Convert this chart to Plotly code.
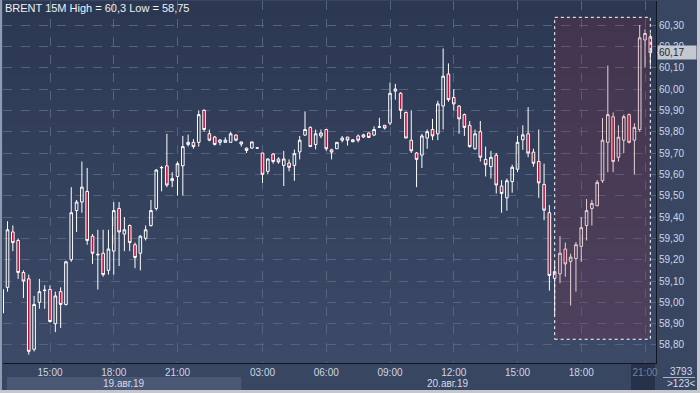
import plotly.graph_objects as go
import pandas as pd

# ---------------- data (BRENT 15M) ----------------
opens = [58.95, 59.07, 59.33, 59.29, 59.14, 59.11, 58.78, 59.00, 59.055, 59.06,
         58.90, 59.05, 58.99, 59.20, 59.43, 59.47, 59.52, 59.31, 59.222, 59.23,
         59.15, 59.24, 59.44, 59.32, 59.36, 59.27, 59.23, 59.30, 59.36, 59.44,
         59.63, 59.64, 59.57, 59.59, 59.64, 59.74, 59.75, 59.75, 59.90, 59.79,
         59.775, 59.75, 59.75, 59.75, 59.784, 59.752, 59.723, 59.723, 59.723, 59.70,
         59.614, 59.695, 59.672, 59.642, 59.653, 59.642, 59.705, 59.784, 59.82, 59.74,
         59.78, 59.81, 59.715, 59.72, 59.76, 59.775, 59.753, 59.78, 59.775, 59.794,
         59.784, 59.82, 59.83, 59.84, 59.99, 59.98, 59.89, 59.76, 59.70, 59.69,
         59.77, 59.81, 59.79, 59.92, 60.07, 59.96, 59.92, 59.88, 59.83, 59.72,
         59.80, 59.67, 59.636, 59.69, 59.545, 59.49, 59.566, 59.624, 59.762, 59.79,
         59.704, 59.66, 59.553, 59.42, 59.1125, 59.134, 59.25, 59.192, 59.205, 59.2625,
         59.36, 59.44, 59.453, 59.57, 59.75, 59.87, 59.68, 59.76, 59.88, 59.76,
         59.81, 60.23, 60.245]
highs = [59.07, 59.38, 59.36, 59.30, 59.15, 59.13, 59.03, 59.11, 59.08, 59.08,
         59.05, 59.07, 59.195, 59.54, 59.48, 59.66, 59.63, 59.32, 59.34, 59.34,
         59.34, 59.47, 59.47, 59.40, 59.365, 59.28, 59.315, 59.36, 59.48, 59.625,
         59.64, 59.79, 59.61, 59.66, 59.78, 59.786, 59.765, 59.90, 59.905, 59.81,
         59.78, 59.765, 59.773, 59.80, 59.786, 59.752, 59.725, 59.752, 59.725, 59.70,
         59.675, 59.70, 59.68, 59.71, 59.67, 59.716, 59.78, 59.895, 59.825, 59.81,
         59.81, 59.812, 59.72, 59.75, 59.78, 59.775, 59.765, 59.787, 59.79, 59.796,
         59.825, 59.865, 59.83, 60.03, 60.024, 59.985, 59.895, 59.90, 59.705, 59.79,
         59.81, 59.86, 59.945, 60.19, 60.12, 60.00, 59.925, 59.885, 59.85, 59.81,
         59.85, 59.73, 59.71, 59.70, 59.573, 59.58, 59.645, 59.78, 59.83, 59.915,
         59.72, 59.81, 59.65, 59.456, 59.19, 59.31, 59.28, 59.228, 59.283, 59.40,
         59.484, 59.48, 59.573, 59.864, 60.11, 59.89, 59.83, 59.88, 59.885, 59.84,
         60.30, 60.28, 60.26]
lows = [58.94, 59.05, 59.24, 59.11, 59.02, 58.755, 58.77, 58.97, 58.97, 58.905,
        58.86, 58.88, 58.985, 59.19, 59.33, 59.42, 59.27, 59.18, 59.06, 59.12,
        59.13, 59.13, 59.17, 59.24, 59.24, 59.16, 59.15, 59.29, 59.355, 59.43,
        59.52, 59.54, 59.54, 59.50, 59.50, 59.73, 59.72, 59.73, 59.80, 59.755,
        59.735, 59.736, 59.75, 59.75, 59.755, 59.73, 59.70, 59.72, 59.72, 59.56,
        59.60, 59.65, 59.65, 59.545, 59.614, 59.57, 59.67, 59.78, 59.73, 59.717,
        59.77, 59.71, 59.67, 59.72, 59.75, 59.735, 59.75, 59.75, 59.77, 59.77,
        59.78, 59.82, 59.81, 59.83, 59.95, 59.86, 59.77, 59.70, 59.54, 59.63,
        59.72, 59.76, 59.76, 59.81, 59.94, 59.90, 59.79, 59.78, 59.725, 59.715,
        59.66, 59.59, 59.58, 59.51, 59.42, 59.43, 59.514, 59.61, 59.715, 59.68,
        59.636, 59.49, 59.385, 59.055, 58.94, 59.09, 59.12, 58.985, 59.05, 59.19,
        59.29, 59.36, 59.45, 59.56, 59.61, 59.61, 59.66, 59.70, 59.745, 59.60,
        59.80, 60.10, 60.11]
closes = [59.06, 59.34, 59.28, 59.14, 59.10, 58.77, 58.99, 59.05, 59.057, 58.91,
          59.03, 58.99, 59.19, 59.42, 59.47, 59.54, 59.29, 59.23, 59.225, 59.13,
          59.25, 59.43, 59.33, 59.34, 59.28, 59.21, 59.31, 59.34, 59.43, 59.62,
          59.632, 59.55, 59.58, 59.65, 59.73, 59.75, 59.73, 59.88, 59.81, 59.76,
          59.74, 59.761, 59.76, 59.79, 59.76, 59.742, 59.712, 59.752, 59.724, 59.60,
          59.672, 59.66, 59.658, 59.672, 59.633, 59.697, 59.76, 59.81, 59.73, 59.79,
          59.794, 59.72, 59.704, 59.75, 59.77, 59.76, 59.762, 59.76, 59.785, 59.773,
          59.81, 59.823, 59.817, 59.98, 60.00, 59.90, 59.77, 59.71, 59.67, 59.78,
          59.80, 59.78, 59.93, 60.06, 59.95, 59.93, 59.86, 59.82, 59.73, 59.79,
          59.68, 59.645, 59.68, 59.55, 59.51, 59.57, 59.633, 59.75, 59.785, 59.70,
          59.652, 59.56, 59.432, 59.126, 59.144, 59.23, 59.18, 59.212, 59.27, 59.35,
          59.43, 59.464, 59.5625, 59.76, 59.88, 59.66, 59.774, 59.87, 59.75, 59.82,
          60.24, 60.26, 60.17]

# trading sessions (bar open times)
session_1 = pd.date_range("2019-08-19 12:45", "2019-08-20 00:45", freq="15min")
session_2 = pd.date_range("2019-08-20 03:00", "2019-08-20 21:15", freq="15min")
bar_times = list(session_1) + list(session_2)

price_ticks = [58.80, 58.90, 59.00, 59.10, 59.20, 59.30, 59.40, 59.50,
               59.60, 59.70, 59.80, 59.90, 60.00, 60.10, 60.20, 60.30]
price_tick_labels = ["58,80", "58,90", "59,00", "59,10", "59,20", "59,30", "59,40", "59,50",
                     "59,60", "59,70", "59,80", "59,90", "60,00", "60,10", "60,20", "60,30"]
date_labels = ["19.авг.19", "20.авг.19"]
title_text = "BRENT 15M High = 60,3 Low = 58,75"
last_price = 60.17
last_price_label = "60,17"
counter_label = "3793"
bars_label = ">123<"

# ---------------- derived ----------------
x_idx = list(range(len(opens)))
time_tick_vals = [i for i, t in enumerate(bar_times) if t.minute == 0 and t.hour % 3 == 0 and t.hour != 0]
time_tick_text = [bar_times[i].strftime("%H:%M") for i in time_tick_vals]
time_tick_text[-1] = '<span style="color:#76829a">' + time_tick_text[-1] + '</span>'
midnight_idx = next(i for i, t in enumerate(bar_times) if t.hour == 0 and t.minute == 0)

# figure geometry (px)
W, H = 700, 393
ML, MR, MT, MB = 3, 44, 1, 30
PW, PH = W - ML - MR, H - MT - MB


def px(xp):
    return (xp - ML) / PW


def py(yp):
    return (H - MB - yp) / PH


fig = go.Figure()
fig.add_trace(go.Candlestick(
    x=x_idx, open=opens, high=highs, low=lows, close=closes,
    increasing=dict(line=dict(color="#ffffff", width=1), fillcolor="rgba(0,0,0,0)"),
    decreasing=dict(line=dict(color="#ffffff", width=1), fillcolor="#bf0f37"),
    whiskerwidth=0, showlegend=False, hoverinfo="skip",
))

shapes = []
# background gradient of the plot area
top_c = (44, 56, 82)
bot_c = (60, 74, 104)
n_strips = 24
for k in range(n_strips):
    f = k / (n_strips - 1)
    c = tuple(int(round(top_c[j] + (bot_c[j] - top_c[j]) * f)) for j in range(3))
    shapes.append(dict(type="rect", xref="paper", yref="paper", x0=0, x1=1,
                       y0=1 - (k + 1) / n_strips, y1=1 - k / n_strips,
                       fillcolor="rgb(%d,%d,%d)" % c, line=dict(width=0), layer="below"))

# highlighted zone (last bars)
shapes.append(dict(type="rect", xref="x", yref="y", x0=104, x1=122, y0=58.827, y1=60.336,
                   fillcolor="rgba(150,40,62,0.21)", line=dict(color="#ffffff", width=1, dash="dot"),
                   layer="above"))

# date band for 19 Aug
shapes.append(dict(type="rect", xref="x", yref="paper", x0=0.9, x1=midnight_idx,
                   y0=py(390), y1=py(377), fillcolor="#4b5875", line=dict(width=0), layer="below"))
# dark band under last time label
shapes.append(dict(type="rect", xref="paper", yref="paper", x0=px(631), x1=px(655),
                   y0=py(390), y1=py(363), fillcolor="#27314a", line=dict(width=0), layer="below"))
# counter separator
shapes.append(dict(type="line", xref="paper", yref="paper", x0=px(663), x1=px(695),
                   y0=py(377.5), y1=py(377.5), line=dict(color="#a9b4c8", width=1)))
# price marker arrow
shapes.append(dict(type="path", xref="paper", yref="y", xsizemode="pixel", ysizemode="pixel",
                   xanchor=1, yanchor=last_price, path="M 1,0 L 7,6.5 L 7,-6.5 Z",
                   fillcolor="#c4c8d0", line=dict(width=0)))
# outer frame
shapes.append(dict(type="rect", xref="paper", yref="paper", x0=px(0), x1=px(2),
                   y0=py(393), y1=py(0), fillcolor="#8f9bb0", line=dict(width=0)))
shapes.append(dict(type="rect", xref="paper", yref="paper", x0=px(0), x1=px(700),
                   y0=py(393), y1=py(390), fillcolor="#c4c8ce", line=dict(width=0)))
shapes.append(dict(type="rect", xref="paper", yref="paper", x0=px(697), x1=px(700),
                   y0=py(393), y1=py(0), fillcolor="#c4c8ce", line=dict(width=0)))

annotations = [
    dict(text=title_text, xref="paper", yref="paper", x=px(3), y=py(8), xanchor="left",
         yanchor="middle", showarrow=False, font=dict(color="#eef1f6", size=11, family="Liberation Sans")),
    dict(text=date_labels[0], xref="x", yref="paper", x=(0.9 + midnight_idx) / 2, y=py(383.5),
         xanchor="center", yanchor="middle", showarrow=False,
         font=dict(color="#d3dbea", size=10, family="Liberation Sans")),
    dict(text=date_labels[1], xref="x", yref="paper", x=(midnight_idx + 123) / 2, y=py(383.5),
         xanchor="center", yanchor="middle", showarrow=False,
         font=dict(color="#d3dbea", size=10, family="Liberation Sans")),
    dict(text=last_price_label, xref="paper", yref="y", x=px(657), y=last_price, xanchor="left",
         yanchor="middle", showarrow=False, bgcolor="#c4c8d0", borderpad=1, width=36, align="left",
         font=dict(color="#1c2433", size=10, family="Liberation Sans")),
    dict(text=counter_label, xref="paper", yref="paper", x=px(681), y=py(371), xanchor="center",
         yanchor="middle", showarrow=False, font=dict(color="#d3dbea", size=10, family="Liberation Sans")),
    dict(text=bars_label, xref="paper", yref="paper", x=px(681), y=py(383.5), xanchor="center",
         yanchor="middle", showarrow=False, font=dict(color="#d3dbea", size=10, family="Liberation Sans")),
]

fig.update_layout(
    width=W, height=H, margin=dict(l=ML, r=MR, t=MT, b=MB),
    paper_bgcolor="#384661", plot_bgcolor="#34405c",
    boxgap=0.3, showlegend=False,
    shapes=shapes, annotations=annotations,
    font=dict(family="Liberation Sans", size=10, color="#cdd6e8"),
    xaxis=dict(range=[0.15, 123.07], tickvals=time_tick_vals, ticktext=time_tick_text,
               showgrid=True, gridcolor="#56637f", griddash="dash", gridwidth=1,
               zeroline=False, showline=True, linecolor="#10151f", linewidth=1,
               ticks="", rangeslider=dict(visible=False), fixedrange=True,
               tickfont=dict(size=10, color="#cdd6e8")),
    yaxis=dict(side="right", range=[58.7156, 60.4125], tickvals=price_ticks, ticktext=price_tick_labels,
               showgrid=True, gridcolor="#56637f", griddash="dash", gridwidth=1,
               zeroline=False, showline=True, linecolor="#10151f", linewidth=1,
               ticks="", fixedrange=True, tickfont=dict(size=10, color="#cdd6e8")),
)

fig.write_html("out.html", config={"displayModeBar": False},
               post_script="document.body.style.margin='0';document.body.style.overflow='hidden';")
